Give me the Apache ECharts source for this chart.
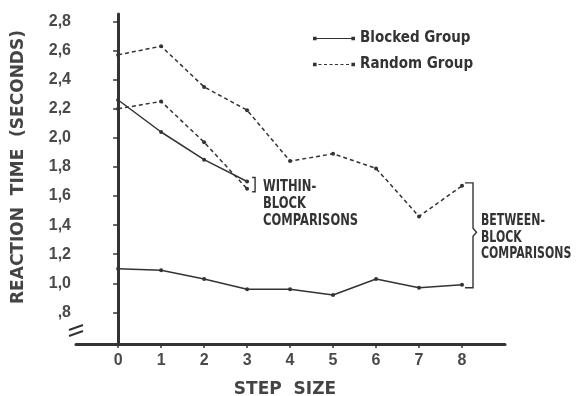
<!DOCTYPE html>
<html>
<head>
<meta charset="utf-8">
<script src="https://cdn.jsdelivr.net/npm/echarts@6/dist/echarts.min.js"></script>
<style>
  html, body { margin: 0; padding: 0; background: #fff; }
  #chart { width: 576px; height: 396px; }
</style>
</head>
<body>
<div id="chart"></div>
<script>
// Step sizes on the horizontal axis
const steps = [0, 1, 2, 3, 4, 5, 6, 7, 8];
// Mean reaction times (seconds), between-block comparisons
const blockedBetween = [1.10, 1.09, 1.03, 0.96, 0.96, 0.92, 1.03, 0.97, 0.99];
const randomBetween  = [2.57, 2.63, 2.35, 2.19, 1.84, 1.89, 1.79, 1.46, 1.67];
// Mean reaction times (seconds), within-block comparisons (steps 0-3)
const blockedWithin = [2.26, 2.04, 1.85, 1.70];
const randomWithin  = [2.20, 2.25, 1.97, 1.65];
// Tick values
const yTicks = [0.8, 1.0, 1.2, 1.4, 1.6, 1.8, 2.0, 2.2, 2.4, 2.6, 2.8];
const xTicks = [0, 1, 2, 3, 4, 5, 6, 7, 8];

const INK = '#333';
const pairs = (vals) => vals.map((v, i) => [steps[i], v]);

function fmtY(v) {
  const s = v.toFixed(1).replace('.', ',');
  return s.startsWith('0') ? s.slice(1) : s;
}

// legend icons: a line with a small dot at each end
const dots = 'M0,1.2h3.6v3.6h-3.6z M38.4,1.2h3.6v3.6h-3.6z';
const solidIcon = 'path://' + dots + ' M3,2.4h36v1.2h-36z';
let dashedIcon = 'path://' + dots;
for (let x = 5.5; x < 36; x += 5.5) dashedIcon += ' M' + x + ',2.4h3v1.2h-3z';

const lineCommon = {
  type: 'line',
  symbol: 'circle',
  symbolSize: 4,
  silent: true,
  animation: false,
  itemStyle: { color: INK },
};

const grid = { left: 76, right: 71, top: 14, bottom: 52, outerBoundsMode: 'none', containLabel: false };

const chart = echarts.init(document.getElementById('chart'), null, { renderer: 'canvas' });

chart.setOption({
  backgroundColor: '#fff',
  animation: false,
  grid: grid,
  legend: {
    orient: 'vertical',
    left: 313,
    top: 31,
    padding: 0,
    itemWidth: 42,
    itemHeight: 4,
    itemGap: 11,
    selectedMode: false,
    itemStyle: { color: INK, borderWidth: 0 },
    textStyle: { fontFamily: 'DejaVu Sans Condensed', fontWeight: 'bold', fontSize: 15, color: INK },
    data: [
      { name: 'Blocked Group', icon: solidIcon },
      { name: 'Random Group', icon: dashedIcon }
    ]
  },
  xAxis: {
    type: 'value',
    min: -0.98,
    max: 9,
    name: 'STEP  SIZE',
    nameLocation: 'middle',
    nameGap: 37,
    nameTextStyle: { fontFamily: 'DejaVu Sans', fontWeight: 'bold', fontSize: 17, color: '#444', padding: [0, 11, 0, 0] },
    axisLine: { show: true, lineStyle: { color: INK, width: 3 } },
    axisTick: { show: true, inside: false, length: 4, customValues: xTicks, lineStyle: { color: INK, width: 1.5 } },
    axisLabel: {
      customValues: xTicks,
      margin: 9,
      fontFamily: 'Liberation Sans', fontWeight: 'bold', fontSize: 16, color: '#4a4a4a'
    },
    splitLine: { show: false }
  },
  yAxis: {
    type: 'value',
    min: 0.583,
    max: 2.851,
    name: 'REACTION  TIME  (SECONDS)',
    nameLocation: 'middle',
    nameGap: 49,
    nameRotate: 90,
    nameTextStyle: { fontFamily: 'DejaVu Sans', fontWeight: 'bold', fontSize: 17, color: '#444', padding: [0, 0, 0, 24] },
    axisLine: { show: true, lineStyle: { color: INK, width: 3 } },
    axisTick: { show: true, inside: false, length: 5, customValues: yTicks, lineStyle: { color: INK, width: 1.5 } },
    axisLabel: {
      customValues: yTicks,
      margin: 5,
      formatter: fmtY,
      fontFamily: 'Liberation Sans', fontWeight: 'bold', fontSize: 16, color: '#4a4a4a'
    },
    splitLine: { show: false }
  },
  series: [
    Object.assign({}, lineCommon, { name: 'Blocked Group', data: pairs(blockedWithin), lineStyle: { color: INK, width: 1.5 } }),
    Object.assign({}, lineCommon, { name: 'Blocked Group', data: pairs(blockedBetween), lineStyle: { color: INK, width: 1.5 } }),
    Object.assign({}, lineCommon, { name: 'Random Group', data: pairs(randomWithin), lineStyle: { color: INK, width: 1.5, type: [4, 3] } }),
    Object.assign({}, lineCommon, { name: 'Random Group', data: pairs(randomBetween), lineStyle: { color: INK, width: 1.5, type: [4, 3] } })
  ]
});

// Brackets, comparison labels and the axis break, placed from the data scales
const px = (x, y) => chart.convertToPixel({ gridIndex: 0 }, [x, y]);
const last = steps.length - 1;
const wTop = px(3, blockedWithin[3]);
const wBot = px(3, randomWithin[3]);
const bTop = px(steps[last], randomBetween[last]);
const bBot = px(steps[last], blockedBetween[last]);

const wx = wTop[0] + 8;
const bx = bTop[0] + 11;
const bMid = (bTop[1] + bBot[1]) / 2 - 3;
const gBottom = 396 - grid.bottom;

const condensed = { fontFamily: 'DejaVu Sans Condensed', fontWeight: 'bold', fontSize: 16, fill: INK, lineHeight: 17 };

chart.setOption({
  graphic: [
    {
      type: 'polyline', silent: true,
      shape: { points: [[wx - 3, wTop[1] - 4], [wx, wTop[1] - 4], [wx, wBot[1] + 3], [wx - 3, wBot[1] + 3]] },
      style: { stroke: INK, lineWidth: 1.4, fill: null }
    },
    {
      type: 'text', silent: true,
      x: wx + 8, y: wTop[1] - 3, scaleX: 0.8,
      style: Object.assign({ text: 'WITHIN-\nBLOCK\nCOMPARISONS' }, condensed)
    },
    {
      type: 'polyline', silent: true,
      shape: { points: [
        [bTop[0] + 3, bTop[1] - 3], [bx, bTop[1] - 3], [bx, bMid - 4], [bx + 3.5, bMid],
        [bx, bMid + 4], [bx, bBot[1] + 3], [bBot[0] + 3, bBot[1] + 3]
      ] },
      style: { stroke: INK, lineWidth: 1.4, fill: null }
    },
    {
      type: 'text', silent: true,
      x: bx + 8, y: bTop[1] + 27, scaleX: 0.76,
      style: Object.assign({ text: 'BETWEEN-\nBLOCK\nCOMPARISONS' }, condensed, { lineHeight: 16.5 })
    },
    {
      type: 'line', silent: true,
      shape: { x1: grid.left - 7, y1: gBottom - 14, x2: grid.left + 7, y2: gBottom - 19 },
      style: { stroke: INK, lineWidth: 2 }
    },
    {
      type: 'line', silent: true,
      shape: { x1: grid.left - 7, y1: gBottom - 8, x2: grid.left + 7, y2: gBottom - 13 },
      style: { stroke: INK, lineWidth: 2 }
    }
  ]
});
</script>
</body>
</html>
